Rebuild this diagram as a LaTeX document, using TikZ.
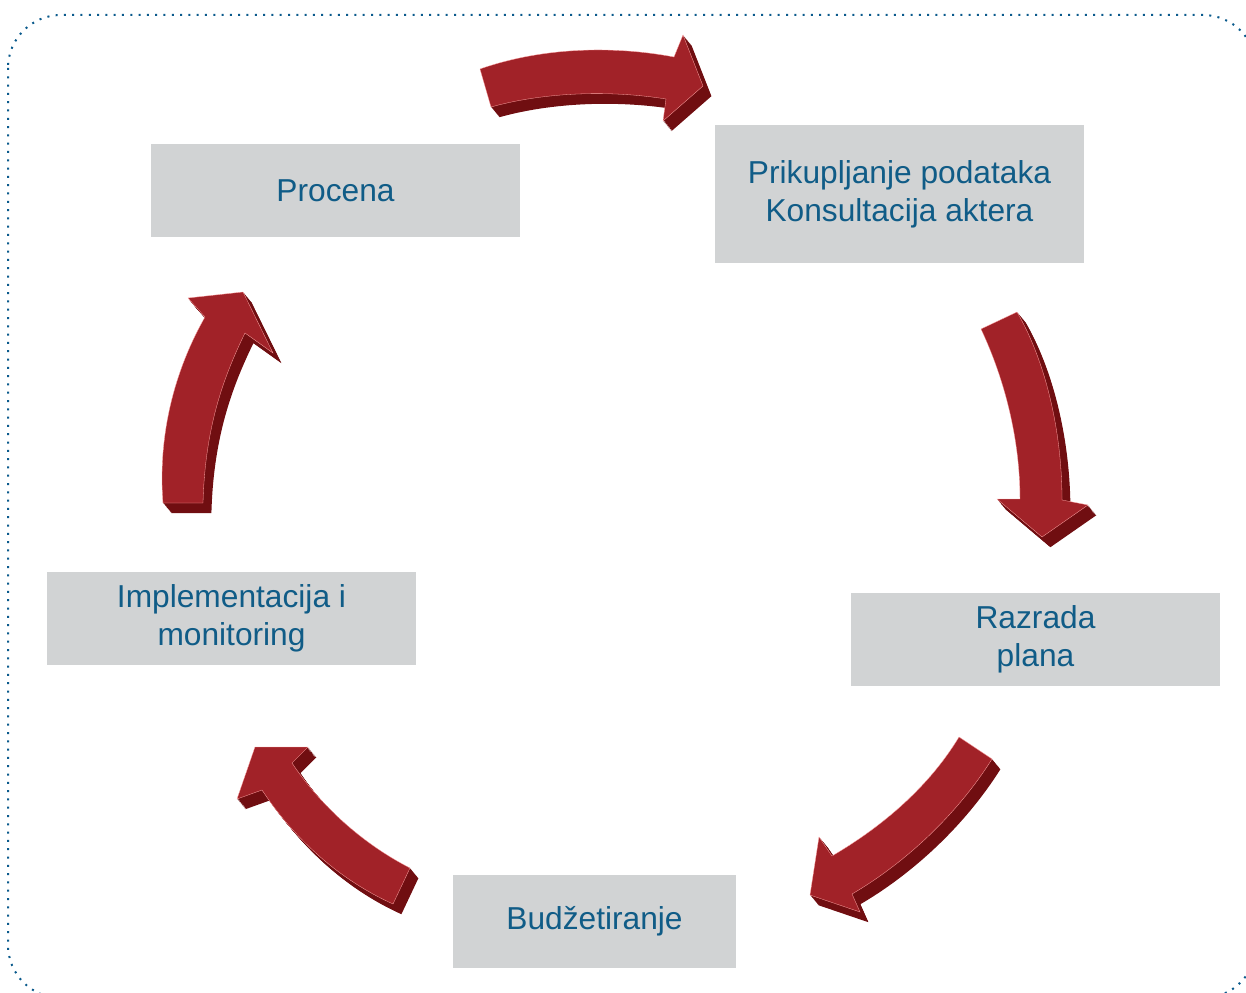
\documentclass[tikz,border=0pt]{standalone}
\usepackage{fontspec}
\setmainfont{Liberation Sans}
\usepackage{tikz}

\definecolor{boxgray}{RGB}{209,211,212}
\definecolor{txtblue}{RGB}{16,92,135}
\definecolor{arrowred}{RGB}{161,34,40}
\definecolor{arrowdark}{RGB}{112,14,17}
\definecolor{dotblue}{RGB}{10,90,140}

% extruded block arrow: dark side first, red top face over it
\newcommand{\blockarrow}[1]{%
  \foreach \k in {1,...,12} {\fill[arrowdark, shift={(0.7*\k,0.85*\k)}] #1;}
  \fill[arrowred, draw=red!35!white, line width=0.3pt] #1;
}

\begin{document}
\begin{tikzpicture}[x=1pt, y=-1pt,
  stepbox/.style={fill=boxgray, text=txtblue, minimum width=369pt, minimum height=93pt,
    align=center, inner sep=0pt, font=\fontsize{31.7}{38}\selectfont}]
\useasboundingbox (0,0) rectangle (1246,992);
\clip (0,0) rectangle (1246,992);

%draw dotted frame
\draw[dotblue, line width=2pt, dash pattern=on 2pt off 6.3pt, rounded corners=53pt] (8,15) rectangle (1256,998);

%draw arrows
\blockarrow{(480,69) .. controls (540,48) and (610,45) .. (674,57) -- (683,35) -- (703,86) -- (663,121) -- (666,99) .. controls (610,90) and (545,92) .. (491,107) -- cycle}
\blockarrow{(981,329) -- (1017,312) .. controls (1045,360) and (1062,430) .. (1062,500) -- (1088,505) -- (1042,537) -- (997,499) -- (1020,499) .. controls (1020,440) and (1005,380) .. (981,329) -- cycle}
\blockarrow{(959,737) -- (992,759) .. controls (960,810) and (910,860) .. (852,894) -- (860,912) -- (810,895) -- (819,837) -- (832,856) .. controls (885,825) and (930,785) .. (959,737) -- cycle}
\blockarrow{(410,868) .. controls (365,845) and (322,808) .. (292,763) -- (308,747) -- (255,747) -- (237,799) -- (262,790) .. controls (295,840) and (340,880) .. (393,904) -- cycle}
\blockarrow{(163,503) .. controls (158,440) and (172,375) .. (205,317) -- (188,298) -- (243,292) -- (273,353) -- (245,333) .. controls (222,380) and (205,430) .. (203,503) -- cycle}

%draw steps
\node[stepbox] (procena) at (335.5,190.5) {Procena};
\node[stepbox, minimum height=138pt] (prikupljanje) at (899.5,194) {Prikupljanje podataka\\Konsultacija aktera};
\node[stepbox] (razrada) at (1035.5,639.5) {Razrada\\plana};
\node[stepbox, minimum width=283pt] (budzetiranje) at (594.5,921.5) {Budžetiranje};
\node[stepbox] (implementacija) at (231.5,618.5) {Implementacija i\\monitoring};
\end{tikzpicture}
\end{document}
